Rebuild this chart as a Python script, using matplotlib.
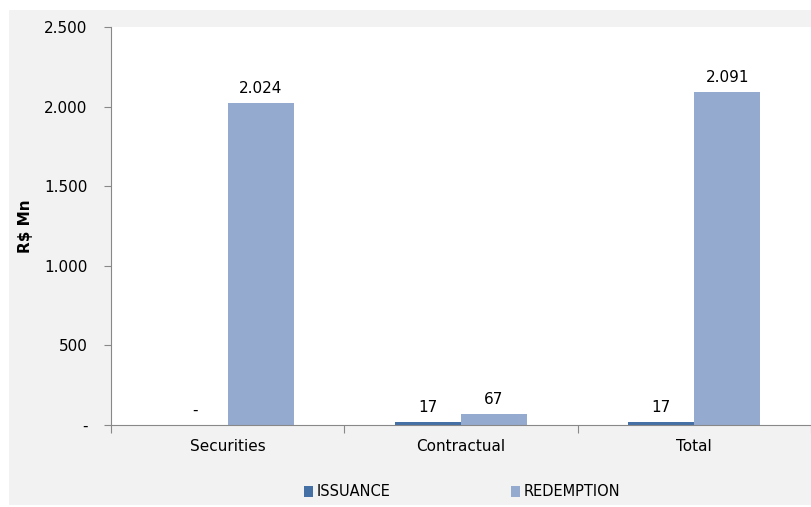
import matplotlib.pyplot as plt
import matplotlib.patches as mpatches
import numpy as np

categories = ["Securities", "Contractual", "Total"]
issuance = [0, 17, 17]
redemption = [2024, 67, 2091]
yticks = [0, 500, 1000, 1500, 2000, 2500]
ytick_labels = ["-", "500", "1.000", "1.500", "2.000", "2.500"]

c_iss = "#4470A6"
c_red = "#95AACF"

fig = plt.figure(figsize=(8.11, 5.07), dpi=100)
fig.patch.set_facecolor("white")
# gray chart area background
fig.patches.append(mpatches.Rectangle((9/811, 2/507), 1, 495/507, transform=fig.transFigure,
                                      facecolor="#F2F2F2", edgecolor="none", zorder=-10))

ax = fig.add_axes([111/811, 1-425/507, (811-111)/811, (425-27)/507])
ax.set_facecolor("white")

x = np.arange(len(categories))
w = 0.283
b1 = ax.bar(x - w/2, issuance, w, color=c_iss, label="ISSUANCE")
b2 = ax.bar(x + w/2, redemption, w, color=c_red, label="REDEMPTION")

def fmt(v):
    if v == 0:
        return "-"
    return f"{v:,}".replace(",", ".")

for bars, vals in [(b1, issuance), (b2, redemption)]:
    for r, v in zip(bars, vals):
        ax.text(r.get_x() + r.get_width()/2, v + 45, fmt(v), ha="center", va="bottom",
                fontsize=11, color="black")

ax.set_xlim(-0.5, 2.5)
ax.set_ylim(0, 2500)
ax.set_yticks(yticks)
ax.set_yticklabels(ytick_labels, fontsize=11)
ax.set_xticks([-0.5, 0.5, 1.5, 2.5])
ax.set_xticklabels([])
ax.set_xticks(x, minor=True)
ax.set_xticklabels(categories, minor=True, fontsize=11)
ax.tick_params(axis="x", which="minor", length=0, pad=10)
ax.tick_params(axis="x", which="major", length=6, color="#888888")
ax.tick_params(axis="y", length=5, color="#888888", pad=12)

for s in ["top", "right"]:
    ax.spines[s].set_visible(False)
ax.spines["left"].set_color("#888888")
ax.spines["bottom"].set_color("#888888")

ax.set_ylabel("R$ Mn", fontsize=11, fontweight="bold", labelpad=8)

fig.legend(loc="center", bbox_to_anchor=(462/811, 1-492/507), ncol=2, frameon=False,
           fontsize=10.5, handlelength=0.6, handleheight=0.8, handletextpad=0.25, columnspacing=8.3)

fig.savefig("out.png", dpi=100)
